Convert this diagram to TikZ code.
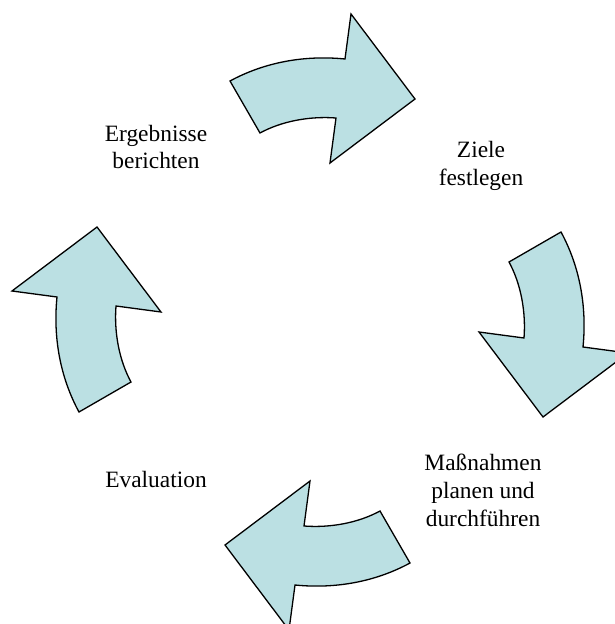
\documentclass[tikz,border=0pt]{standalone}
\usepackage{fontspec}
\setmainfont{Liberation Serif}
\usetikzlibrary{calc}
\tikzset{x=1bp,y=-1bp}
\definecolor{arrowfill}{RGB}{187,224,227}
\def\cx{320}
\def\cy{322}
\tikzset{cyclearrow/.style={fill=arrowfill, draw=black, line width=1.3bp, line join=miter}}
\tikzset{steplabel/.style={align=center, inner sep=0pt, font=\fontsize{23.5}{28}\selectfont}}

\begin{document}
\begin{tikzpicture}

\useasboundingbox (0,0) rectangle (615,624);
\coordinate (M) at (\cx,\cy);

%% one curved arrow, turned a quarter round the middle each time
\foreach \angle in {0,-90,-180,-270}
	\draw[cyclearrow, rotate around={\angle:(M)}]
		(230,81) .. controls (265,62) and (305,55) .. (345,59)
		-- (351,14) -- (415,99) -- (330,163) -- (336,118)
		.. controls (310,116) and (282,121) .. (260,133) -- cycle;

\node[steplabel] (Ziele) at (481,165.5) {Ziele\\festlegen};
\node[steplabel] (Massnahmen) at (483,490) {Maßnahmen\\planen und\\durchführen};
\node[steplabel, anchor=base] (Evaluation) at (156,487) {Evaluation};
\node[steplabel] (Bericht) at (156,147) {Ergebnisse\\berichten};

\end{tikzpicture}
\end{document}
